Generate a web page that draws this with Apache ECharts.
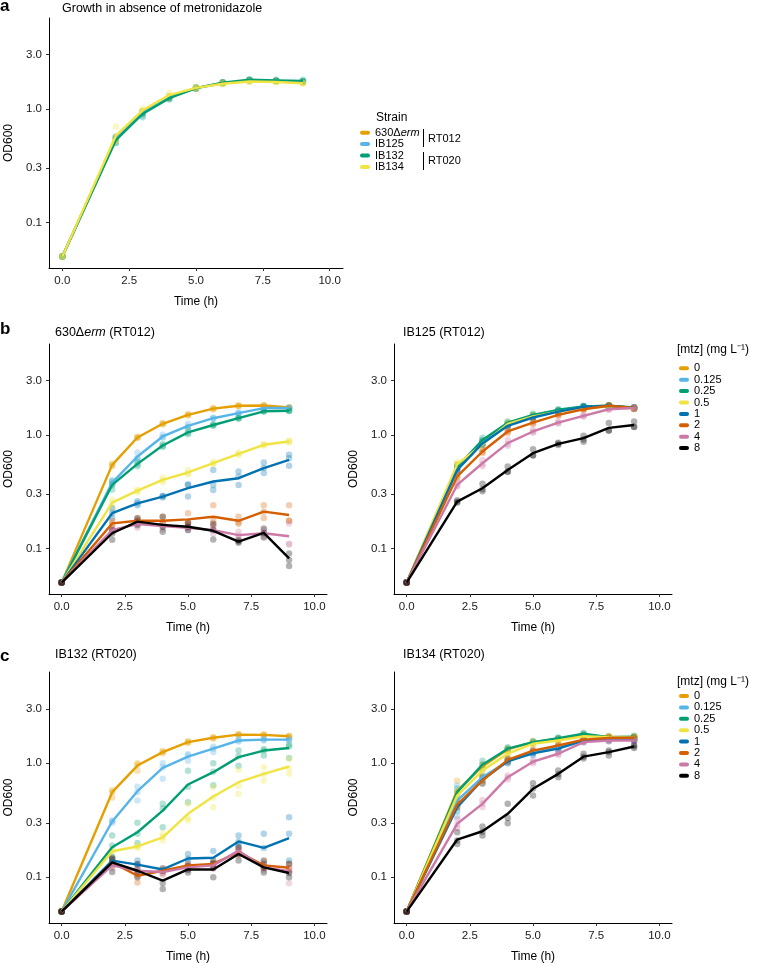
<!DOCTYPE html>
<html><head><meta charset="utf-8">
<script src="https://cdn.jsdelivr.net/npm/echarts@6/dist/echarts.min.js"></script>
<style>html,body{margin:0;padding:0;background:#fff}#chart{width:758px;height:963px}</style>
</head><body><div id="chart"></div>
<script>
// ---------- data ----------
const times = [0, 2, 3, 4, 5, 6, 7, 8, 9];
const xTicks = [0, 2.5, 5, 7.5, 10];
const yTicks = [0.1, 0.3, 1, 3];
const strains = ['630Δerm', 'IB125', 'IB132', 'IB134'];
const strainColors = ['#E69F00', '#56B4E9', '#009E73', '#F0E442'];
const concs = ['0', '0.125', '0.25', '0.5', '1', '2', '4', '8'];
const concColors = ['#E69F00', '#56B4E9', '#009E73', '#F0E442', '#0072B2', '#D55E00', '#CC79A7', '#000000'];

// Panel a: strains without metronidazole (mean lines + replicate points)
const meanA = [
  [0.05,0.55,0.93,1.27,1.52,1.69,1.77,1.75,1.72],
  [0.05,0.54,0.92,1.26,1.52,1.68,1.77,1.75,1.72],
  [0.05,0.53,0.90,1.24,1.52,1.70,1.80,1.78,1.76],
  [0.05,0.58,0.97,1.32,1.53,1.66,1.74,1.72,1.68]
];
const repsA = [
  [[0.05,0.52,0.90,1.24,1.50,1.68,1.76,1.75,1.70],[0.05,0.56,0.94,1.28,1.53,1.71,1.79,1.77,1.73],[0.05,0.57,0.95,1.29,1.53,1.71,1.79,1.76,1.73]],
  [[0.05,0.50,0.84,1.22,1.55,1.66,1.75,1.76,1.72],[0.05,0.55,0.92,1.26,1.50,1.69,1.78,1.75,1.75],[0.05,0.57,0.94,1.27,1.51,1.69,1.78,1.77,1.75]],
  [[0.05,0.50,0.86,1.21,1.55,1.68,1.82,1.80,1.80],[0.05,0.54,0.91,1.25,1.50,1.71,1.79,1.77,1.74],[0.05,0.55,0.93,1.26,1.51,1.71,1.79,1.77,1.74]],
  [[0.05,0.70,1.00,1.38,1.55,1.68,1.75,1.72,1.66],[0.05,0.52,0.95,1.30,1.52,1.65,1.74,1.72,1.69],[0.05,0.53,0.96,1.28,1.52,1.65,1.73,1.72,1.69]]
];

// Panel b left: 630Δerm (RT012)
const meanB1 = [
  [0.05,0.544,0.947,1.25,1.50,1.70,1.80,1.81,1.74],
  [0.05,0.38,0.644,0.967,1.20,1.40,1.55,1.72,1.72],
  [0.05,0.362,0.555,0.805,1.05,1.22,1.40,1.61,1.63],
  [0.05,0.253,0.323,0.401,0.466,0.562,0.68,0.817,0.873],
  [0.05,0.204,0.249,0.286,0.339,0.388,0.415,0.508,0.602],
  [0.05,0.166,0.175,0.175,0.18,0.19,0.175,0.211,0.197],
  [0.05,0.145,0.164,0.157,0.152,0.145,0.131,0.136,0.128],
  [0.05,0.136,0.172,0.161,0.155,0.143,0.115,0.137,0.0816]
];
const repsB1 = [
  [[0.05,0.56,0.96,1.27,1.52,1.72,1.82,1.82,1.75],[0.05,0.54,0.94,1.25,1.50,1.70,1.80,1.81,1.74],[0.05,0.53,0.94,1.23,1.48,1.68,1.78,1.80,1.73]],
  [[0.05,0.40,0.70,1.00,1.25,1.42,1.57,1.74,1.74],[0.05,0.37,0.62,0.95,1.18,1.39,1.55,1.71,1.71],[0.05,0.37,0.62,0.95,1.17,1.39,1.53,1.71,1.71]],
  [[0.05,0.39,0.58,0.83,1.10,1.24,1.42,1.62,1.64],[0.05,0.36,0.55,0.80,1.04,1.21,1.39,1.61,1.63],[0.05,0.33,0.53,0.78,1.01,1.21,1.39,1.60,1.62]],
  [[0.05,0.27,0.33,0.42,0.49,0.58,0.70,0.83,0.89],[0.05,0.25,0.32,0.40,0.46,0.56,0.68,0.81,0.87],[0.05,0.23,0.31,0.38,0.45,0.55,0.66,0.81,0.86]],
  [[0.05,0.225,0.26,0.29,0.367,0.49,0.475,0.57,0.666],[0.05,0.204,0.25,0.29,0.362,0.362,0.43,0.51,0.623],[0.05,0.185,0.24,0.28,0.286,0.327,0.362,0.46,0.533]],
  [[0.05,0.175,0.184,0.19,0.204,0.24,0.19,0.24,0.24],[0.05,0.165,0.175,0.17,0.17,0.175,0.17,0.21,0.175],[0.05,0.158,0.166,0.165,0.166,0.16,0.165,0.185,0.175]],
  [[0.05,0.15,0.175,0.165,0.16,0.155,0.14,0.145,0.166],[0.05,0.145,0.165,0.158,0.152,0.145,0.13,0.135,0.11],[0.05,0.14,0.152,0.148,0.145,0.135,0.123,0.128,0.108]],
  [[0.05,0.145,0.184,0.19,0.168,0.165,0.118,0.15,0.0903],[0.05,0.135,0.172,0.155,0.155,0.145,0.115,0.137,0.079],[0.05,0.119,0.16,0.14,0.145,0.12,0.112,0.125,0.070]]
];

// Panel b right: IB125 (RT012)
const meanB2 = [
  [0.05,0.53,0.85,1.25,1.45,1.62,1.74,1.80,1.72],
  [0.05,0.50,0.85,1.22,1.45,1.62,1.76,1.78,1.72],
  [0.05,0.52,0.90,1.28,1.50,1.66,1.78,1.80,1.74],
  [0.05,0.55,0.82,1.25,1.45,1.60,1.70,1.78,1.70],
  [0.05,0.49,0.84,1.20,1.42,1.60,1.76,1.80,1.72],
  [0.05,0.43,0.713,1.07,1.28,1.50,1.68,1.80,1.72],
  [0.05,0.362,0.562,0.845,1.07,1.28,1.47,1.68,1.72],
  [0.05,0.258,0.339,0.491,0.689,0.833,0.934,1.15,1.22]
];
const repsB2 = [
  [[0.05,0.55,0.88,1.28,1.48,1.64,1.76,1.82,1.74],[0.05,0.53,0.85,1.25,1.45,1.62,1.74,1.80,1.72],[0.05,0.51,0.82,1.22,1.42,1.60,1.72,1.78,1.70]],
  [[0.05,0.52,0.88,1.25,1.48,1.64,1.78,1.80,1.74],[0.05,0.50,0.85,1.22,1.45,1.62,1.76,1.78,1.72],[0.05,0.48,0.82,1.19,1.42,1.60,1.74,1.76,1.70]],
  [[0.05,0.54,0.94,1.31,1.53,1.68,1.80,1.82,1.76],[0.05,0.52,0.90,1.28,1.50,1.66,1.78,1.80,1.74],[0.05,0.50,0.86,1.25,1.47,1.64,1.76,1.78,1.72]],
  [[0.05,0.58,0.85,1.28,1.48,1.62,1.72,1.80,1.72],[0.05,0.55,0.82,1.25,1.45,1.60,1.70,1.78,1.70],[0.05,0.52,0.79,1.22,1.42,1.58,1.68,1.76,1.68]],
  [[0.05,0.51,0.87,1.23,1.45,1.62,1.78,1.82,1.74],[0.05,0.49,0.84,1.20,1.42,1.60,1.76,1.80,1.72],[0.05,0.47,0.81,1.17,1.39,1.58,1.74,1.78,1.70]],
  [[0.05,0.45,0.74,1.10,1.32,1.53,1.70,1.82,1.75],[0.05,0.43,0.71,1.07,1.28,1.50,1.68,1.80,1.72],[0.05,0.41,0.69,1.04,1.24,1.47,1.66,1.78,1.69]],
  [[0.05,0.38,0.60,0.90,1.10,1.30,1.50,1.70,1.74],[0.05,0.36,0.55,0.83,1.06,1.28,1.46,1.68,1.72],[0.05,0.35,0.53,0.80,1.05,1.26,1.45,1.66,1.70]],
  [[0.05,0.265,0.37,0.526,0.747,0.85,0.98,1.27,1.31],[0.05,0.258,0.331,0.475,0.657,0.833,0.91,1.09,1.17],[0.05,0.252,0.318,0.47,0.66,0.815,0.87,1.09,1.18]]
];

// Panel c left: IB132 (RT020)
const meanC1 = [
  [0.05,0.557,0.953,1.25,1.53,1.67,1.78,1.77,1.72],
  [0.05,0.308,0.568,0.91,1.14,1.34,1.58,1.61,1.61],
  [0.05,0.183,0.248,0.384,0.65,0.834,1.13,1.29,1.36],
  [0.05,0.169,0.186,0.224,0.36,0.51,0.681,0.806,0.935],
  [0.05,0.14,0.129,0.117,0.146,0.148,0.206,0.181,0.22],
  [0.05,0.135,0.103,0.114,0.127,0.131,0.166,0.127,0.121],
  [0.05,0.127,0.114,0.111,0.122,0.127,0.171,0.122,0.113],
  [0.05,0.135,0.114,0.0935,0.117,0.117,0.16,0.122,0.109]
];
const repsC1 = [
  [[0.05,0.58,1.00,1.28,1.56,1.70,1.80,1.79,1.74],[0.05,0.56,0.97,1.25,1.53,1.67,1.78,1.77,1.72],[0.05,0.50,0.86,1.22,1.50,1.64,1.76,1.75,1.70]],
  [[0.05,0.314,0.62,1.00,1.20,1.40,1.62,1.64,1.64],[0.05,0.31,0.557,0.92,1.17,1.34,1.58,1.61,1.61],[0.05,0.30,0.47,0.73,1.05,1.25,1.55,1.58,1.58]],
  [[0.05,0.232,0.30,0.44,0.86,1.00,1.29,1.33,1.45],[0.05,0.19,0.24,0.40,0.62,0.84,1.15,1.29,1.40],[0.05,0.15,0.20,0.275,0.455,0.64,0.95,1.17,1.11]],
  [[0.05,0.175,0.19,0.24,0.44,0.616,0.874,0.92,1.09],[0.05,0.17,0.186,0.225,0.33,0.50,0.63,0.80,0.90],[0.05,0.162,0.18,0.21,0.314,0.41,0.538,0.70,0.806]],
  [[0.05,0.15,0.14,0.12,0.16,0.17,0.232,0.24,0.336],[0.05,0.14,0.13,0.117,0.145,0.14,0.206,0.18,0.24],[0.05,0.13,0.118,0.114,0.133,0.134,0.193,0.13,0.14]],
  [[0.05,0.145,0.115,0.12,0.13,0.14,0.175,0.135,0.13],[0.05,0.135,0.103,0.114,0.127,0.131,0.165,0.127,0.12],[0.05,0.125,0.09,0.108,0.123,0.122,0.155,0.12,0.113]],
  [[0.05,0.135,0.12,0.115,0.128,0.132,0.18,0.13,0.12],[0.05,0.127,0.114,0.11,0.122,0.127,0.171,0.122,0.113],[0.05,0.12,0.108,0.105,0.116,0.12,0.16,0.115,0.0885]],
  [[0.05,0.145,0.13,0.114,0.125,0.132,0.183,0.14,0.131],[0.05,0.133,0.111,0.089,0.117,0.12,0.16,0.122,0.109],[0.05,0.111,0.10,0.079,0.11,0.1,0.14,0.11,0.1]]
];

// Panel c right: IB134 (RT020)
const meanC2 = [
  [0.05,0.575,0.935,1.32,1.53,1.63,1.75,1.71,1.69],
  [0.05,0.47,0.754,1.04,1.25,1.38,1.58,1.62,1.62],
  [0.05,0.557,0.97,1.34,1.53,1.66,1.81,1.69,1.71],
  [0.05,0.52,0.862,1.21,1.48,1.58,1.72,1.69,1.67],
  [0.05,0.411,0.714,1.04,1.22,1.34,1.58,1.60,1.60],
  [0.05,0.434,0.705,1.07,1.29,1.43,1.61,1.66,1.67],
  [0.05,0.294,0.44,0.754,1.03,1.21,1.53,1.58,1.58],
  [0.05,0.214,0.253,0.36,0.596,0.806,1.14,1.25,1.40]
];
const repsC2 = [
  [[0.05,0.70,0.98,1.36,1.56,1.65,1.77,1.73,1.71],[0.05,0.55,0.93,1.32,1.53,1.63,1.75,1.71,1.69],[0.05,0.48,0.90,1.28,1.50,1.61,1.73,1.69,1.67]],
  [[0.05,0.637,0.80,1.08,1.28,1.40,1.60,1.64,1.64],[0.05,0.45,0.76,1.04,1.25,1.38,1.58,1.62,1.62],[0.05,0.34,0.66,1.00,1.22,1.36,1.56,1.60,1.60]],
  [[0.05,0.60,1.05,1.38,1.56,1.68,1.84,1.71,1.74],[0.05,0.56,0.97,1.34,1.53,1.66,1.81,1.69,1.71],[0.05,0.52,0.90,1.30,1.50,1.64,1.78,1.67,1.68]],
  [[0.05,0.56,0.92,1.25,1.52,1.60,1.74,1.71,1.69],[0.05,0.52,0.86,1.21,1.48,1.58,1.72,1.69,1.67],[0.05,0.48,0.80,1.17,1.44,1.56,1.70,1.67,1.65]],
  [[0.05,0.44,0.76,1.08,1.26,1.38,1.62,1.64,1.64],[0.05,0.41,0.71,1.04,1.22,1.34,1.58,1.60,1.60],[0.05,0.38,0.67,1.00,1.18,1.30,1.54,1.56,1.56]],
  [[0.05,0.46,0.75,1.11,1.32,1.46,1.64,1.69,1.70],[0.05,0.43,0.70,1.07,1.29,1.43,1.61,1.66,1.67],[0.05,0.41,0.66,1.03,1.26,1.40,1.58,1.63,1.64]],
  [[0.05,0.325,0.476,0.78,1.06,1.24,1.55,1.60,1.60],[0.05,0.29,0.44,0.754,1.03,1.21,1.53,1.58,1.58],[0.05,0.27,0.41,0.72,1.00,1.18,1.51,1.56,1.56]],
  [[0.05,0.248,0.278,0.44,0.667,0.862,1.21,1.29,1.44],[0.05,0.21,0.25,0.331,0.60,0.80,1.14,1.25,1.40],[0.05,0.196,0.232,0.298,0.52,0.754,1.10,1.17,1.36]]
];

// ---------- layout / style ----------
const FONT = "'Liberation Sans', Arial, Helvetica, sans-serif";
const Y_MIN = 0.0397, Y_MAX = 6.3;
const X_MIN = -0.5, X_MAX = 10.5;
const grids = [
  {left: 49, top: 18, width: 294, height: 250},
  {left: 49, top: 344, width: 278, height: 250},
  {left: 394, top: 344, width: 278, height: 250},
  {left: 49, top: 672, width: 278, height: 251},
  {left: 394, top: 672, width: 278, height: 251}
];
const panels = [
  {means: meanA, reps: repsA, names: strains, colors: strainColors},
  {means: meanB1, reps: repsB1, names: concs, colors: concColors},
  {means: meanB2, reps: repsB2, names: concs, colors: concColors},
  {means: meanC1, reps: repsC1, names: concs, colors: concColors},
  {means: meanC2, reps: repsC2, names: concs, colors: concColors}
];

const tickLabelStyle = {fontFamily: FONT, fontSize: 11.5, color: '#1a1a1a'};
const nameStyle = {fontFamily: FONT, fontSize: 12, color: '#000'};

const xAxes = [], yAxes = [], series = [];
grids.forEach((g, i) => {
  xAxes.push({
    type: 'value', gridIndex: i, min: X_MIN, max: X_MAX,
    axisLine: {show: true, onZero: false, lineStyle: {color: '#000', width: 1}},
    axisTick: {show: true, customValues: xTicks, length: 3, lineStyle: {color: '#333'}},
    axisLabel: {customValues: xTicks, formatter: v => Number(v).toFixed(1), margin: 7, ...tickLabelStyle},
    splitLine: {show: false},
    name: 'Time (h)', nameLocation: 'middle', nameGap: 28, nameTextStyle: nameStyle, nameMoveOverlap: false
  });
  // log axis that places the data
  yAxes.push({
    type: 'log', logBase: 10, gridIndex: i, min: Y_MIN, max: Y_MAX, position: 'left',
    axisLine: {show: true, onZero: false, lineStyle: {color: '#000', width: 1}},
    axisTick: {show: false}, axisLabel: {show: false}, splitLine: {show: false}
  });
  // companion axis carrying the tick labels at 0.1, 0.3, 1, 3 on the same log scale
  const lt = yTicks.map(v => Math.log10(v));
  yAxes.push({
    type: 'value', gridIndex: i, min: Math.log10(Y_MIN), max: Math.log10(Y_MAX), position: 'left',
    axisLine: {show: false, onZero: false},
    axisTick: {show: true, customValues: lt, length: 3, lineStyle: {color: '#333'}},
    axisLabel: {customValues: lt, formatter: v => Math.pow(10, v).toFixed(1), margin: 7, ...tickLabelStyle},
    splitLine: {show: false},
    name: 'OD600', nameLocation: 'middle', nameGap: 34, nameRotate: 90, nameTextStyle: nameStyle, nameMoveOverlap: false
  });
});

panels.forEach((p, i) => {
  p.names.forEach((name, k) => {
    series.push({
      type: 'line', name: name, xAxisIndex: i, yAxisIndex: 2 * i,
      data: times.map((t, j) => [t, p.means[k][j]]),
      showSymbol: false, symbol: 'none', z: 3, silent: true,
      lineStyle: {color: p.colors[k], width: 2.4}, itemStyle: {color: p.colors[k]}
    });
  });
  p.names.forEach((name, k) => {
    const pts = [];
    p.reps[k].forEach(r => r.forEach((v, j) => pts.push([times[j], v])));
    series.push({
      type: 'scatter', name: name, xAxisIndex: i, yAxisIndex: 2 * i,
      data: pts, symbolSize: 6.5, z: 2, silent: true,
      itemStyle: {color: p.colors[k], opacity: 0.3}
    });
  });
});

const CAPSULE = 'path://M2,0L8,0A2,2,0,0,1,8,4L2,4A2,2,0,0,1,2,0Z';
function legendCfg(names, colors, left, top, fmt) {
  return {
    orient: 'vertical', left: left, top: top, itemWidth: 10, itemHeight: 4, itemGap: 0,
    selectedMode: false, padding: 0,
    data: names.map((n, i) => ({name: n, icon: CAPSULE, itemStyle: {color: colors[i], opacity: 1, borderWidth: 0}})),
    formatter: fmt || (n => n),
    textStyle: {fontFamily: FONT, fontSize: 11, color: '#000', lineHeight: 11.4,
      rich: {i: {fontFamily: FONT, fontSize: 11, fontStyle: 'italic', color: '#000', lineHeight: 11.4}}}
  };
}

function txt(x, y, text, size, extra) {
  return {type: 'text', x: x, y: y, silent: true,
    style: Object.assign({text: text, fontFamily: FONT, fontSize: size, fill: '#000', align: 'left', verticalAlign: 'middle'}, extra || {})};
}
const italicRich = {i: {fontFamily: FONT, fontSize: 12.5, fontStyle: 'italic', fill: '#000'}};

const graphic = [
  txt(0, 6, 'a', 17, {fontWeight: 'bold'}),
  txt(0, 329, 'b', 17, {fontWeight: 'bold'}),
  txt(0, 656, 'c', 17, {fontWeight: 'bold'}),
  txt(62, 9, 'Growth in absence of metronidazole', 12.5),
  txt(55, 333, '630Δ{i|erm} (RT012)', 12.5, {rich: italicRich}),
  txt(403, 333, 'IB125 (RT012)', 12.5),
  txt(55, 655, 'IB132 (RT020)', 12.5),
  txt(403, 655, 'IB134 (RT020)', 12.5),
  txt(376, 118, 'Strain', 12),
  txt(677, 350, '[mtz] (mg L⁻¹)', 12),
  txt(677, 682, '[mtz] (mg L⁻¹)', 12),
  {type: 'line', silent: true, shape: {x1: 423.5, y1: 129, x2: 423.5, y2: 147}, style: {stroke: '#000', lineWidth: 1}},
  {type: 'line', silent: true, shape: {x1: 423.5, y1: 152, x2: 423.5, y2: 170}, style: {stroke: '#000', lineWidth: 1}},
  txt(428, 138.5, 'RT012', 11),
  txt(428, 161, 'RT020', 11)
];

const option = {
  animation: false,
  backgroundColor: '#fff',
  textStyle: {fontFamily: FONT},
  grid: grids.map(g => Object.assign({containLabel: false, outerBoundsMode: 'none'}, g)),
  xAxis: xAxes,
  yAxis: yAxes,
  legend: [
    legendCfg(strains, strainColors, 360, 127, n => n.replace('erm', '{i|erm}')),
    legendCfg(concs, concColors, 679, 362.6),
    legendCfg(concs, concColors, 679, 690.3)
  ],
  graphic: graphic,
  series: series
};

const chart = echarts.init(document.getElementById('chart'), null, {renderer: 'canvas'});
chart.setOption(option);
</script></body></html>
